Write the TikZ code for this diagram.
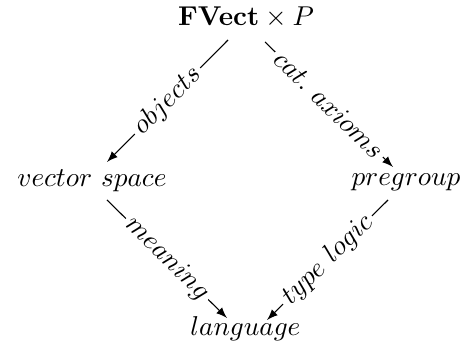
\documentclass[tikz,border=0pt]{standalone}
\usetikzlibrary{arrows}
\begin{document}
\begin{tikzpicture}[x=0.367pt,y=-0.367pt,
  obj/.style={anchor=base,inner sep=0pt},
  arr/.style={->,>=latex,line width=0.4pt},
  lbl/.style={midway,sloped,fill=white,inner sep=1.5pt}]
\useasboundingbox (0,0) rectangle (471,354);
\node[obj] (top) at (246,26) {$\mathbf{FVect}\times P$};
\node[obj] (vs) at (92,187) {$vector\ space$};
\node[obj] (pg) at (406,186) {$pregroup$};
\node[obj] (lang) at (245.5,336) {$language$};
\draw[arr] ([shift={(-18,14)}]top.base) -- node[lbl]{$objects$} ([shift={(15,-25)}]vs.base);
\draw[arr] ([shift={(19,16)}]top.base) -- node[lbl]{$cat.\ axioms$} ([shift={(-13,-19)}]pg.base);
\draw[arr] ([shift={(15,13)}]vs.base) -- node[lbl]{$meaning$} ([shift={(-18.5,-18)}]lang.base);
\draw[arr] ([shift={(-18,14)}]pg.base) -- node[lbl]{$type\ logic$} ([shift={(21.5,-16)}]lang.base);
\end{tikzpicture}
\end{document}
